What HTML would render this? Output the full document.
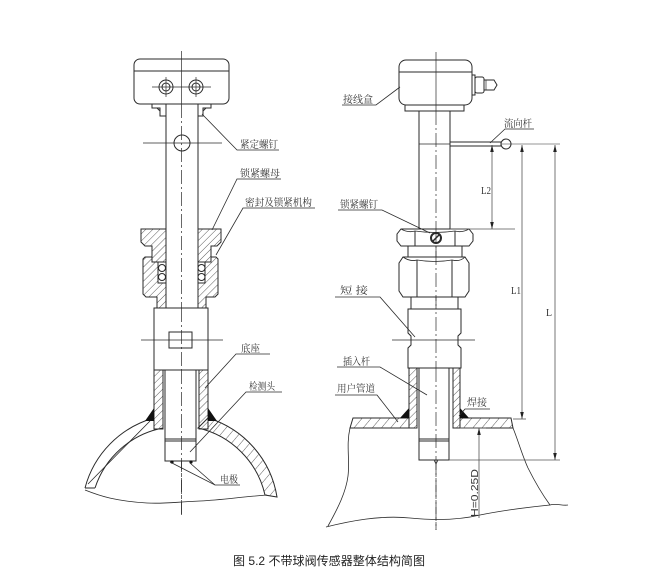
<!DOCTYPE html>
<html><head><meta charset="utf-8"><style>
html,body{margin:0;padding:0;background:#fff;}
svg{display:block;}
text{font-family:"Liberation Serif","Noto Serif CJK SC",serif;font-size:10px;fill:#333;}
.cap{font-family:"Liberation Sans","Noto Sans CJK SC",sans-serif;font-size:12px;fill:#222;}
.hd{font-family:"Liberation Sans","Noto Sans CJK SC",sans-serif;font-size:10px;fill:#333;}
</style></head><body>
<svg width="648" height="577" viewBox="0 0 648 577" xmlns="http://www.w3.org/2000/svg">
<defs>
<pattern id="h" width="5" height="5" patternUnits="userSpaceOnUse" patternTransform="rotate(45)">
<line x1="0" y1="0" x2="0" y2="5" stroke="#333" stroke-width="0.8"/>
</pattern>
<pattern id="h2" width="7" height="7" patternUnits="userSpaceOnUse" patternTransform="rotate(40)">
<line x1="0" y1="0" x2="0" y2="7" stroke="#333" stroke-width="0.8"/>
</pattern>
</defs>

<!-- ================= LEFT DRAWING ================= -->
<g fill="none" stroke="#2a2a2a" stroke-width="1">
  <line x1="181.5" y1="51" x2="181.5" y2="104" stroke-width="0.7"/>
  <line x1="181.5" y1="104" x2="181.5" y2="515" stroke-width="0.7" stroke-dasharray="14 3 2 3"/>
  <rect x="134" y="59" width="95" height="45" rx="6"/>
  <line x1="134" y1="71" x2="229" y2="71"/>
  <circle cx="166" cy="87" r="7"/><circle cx="166" cy="87" r="4"/>
  <circle cx="196" cy="87" r="7"/><circle cx="196" cy="87" r="4"/>
  <line x1="152" y1="87" x2="211" y2="87" stroke-width="0.7"/>
  <line x1="166" y1="77" x2="166" y2="97" stroke-width="0.7"/>
  <line x1="196" y1="77" x2="196" y2="97" stroke-width="0.7"/>
  <path d="M152,104 V108 H160 V116 H166"/>
  <path d="M211,104 V108 H203 V116 H198"/>
  <path d="M157,108 L160,111 L160,108 Z" fill="url(#h)"/>
  <path d="M206,108 L203,111 L203,108 Z" fill="url(#h)"/>
  <line x1="166" y1="104" x2="166" y2="308"/>
  <line x1="198" y1="104" x2="198" y2="308"/>
  <circle cx="182" cy="143" r="8"/>
  <line x1="143" y1="143" x2="222" y2="143" stroke-width="0.7"/>
  <path d="M141,229 H166 V262 H152 V246 H145 L141,242 Z" fill="url(#h)"/>
  <path d="M198,229 H221 V242 L217,246 H211 V262 H198 Z" fill="url(#h)"/>
  <path d="M143,259 L145,257 H152 V262 H158 V283 H166 V308 H157 V297 H146 L143,294 Z" fill="url(#h)"/>
  <path d="M218,259 L216,257 H211 V262 H205 V283 H198 V308 H206 V297 H215 L218,294 Z" fill="url(#h)"/>
  <rect x="158" y="262" width="8" height="21" fill="#fff"/>
  <rect x="198" y="262" width="7" height="21" fill="#fff"/>
  <circle cx="162" cy="268" r="3.5"/><circle cx="162" cy="277" r="3.5"/>
  <circle cx="201.5" cy="268" r="3.5"/><circle cx="201.5" cy="277" r="3.5"/>
  <rect x="154" y="308" width="54" height="62" fill="#fff"/>
  <rect x="169" y="332" width="23" height="16"/>
  <line x1="141" y1="340" x2="223" y2="340" stroke-width="0.7"/>
  <line x1="181.5" y1="308" x2="181.5" y2="370" stroke-width="0.7" stroke-dasharray="14 3 2 3"/>
  <path d="M208,418 A99,99 0 0 1 277,497 L265,495 A89,89 0 0 0 198,428 Z" fill="url(#h2)"/>
  <path d="M85,488 A99,99 0 0 1 154,418"/>
  <path d="M95,488 A89,89 0 0 1 163,428"/>
  <line x1="88" y1="484" x2="150" y2="421" stroke-width="0.8"/>
  <line x1="85" y1="488" x2="95" y2="488"/>
  <path d="M85,490 C100,496 115,501 147,503 C165,504 175,502 200,501 C222,500 240,497 267,495" stroke-width="0.8"/>
  <rect x="154" y="370" width="9" height="59" fill="url(#h)"/>
  <rect x="199" y="370" width="9" height="59" fill="url(#h)"/>
  <rect x="165" y="370" width="31" height="91" fill="#fff"/>
  <line x1="165" y1="439" x2="196" y2="439"/>
  <line x1="165" y1="441" x2="196" y2="441"/>
  <line x1="181.5" y1="370" x2="181.5" y2="515" stroke-width="0.7" stroke-dasharray="14 3 2 3"/>
  <path d="M154,408 L154,421 L145,421 Z" fill="#111" stroke="none"/>
  <path d="M208,408 L208,421 L217,421 Z" fill="#111" stroke="none"/>
  <circle cx="172" cy="462" r="1.6" fill="#111" stroke="none"/>
  <circle cx="191" cy="462" r="1.6" fill="#111" stroke="none"/>
  <g stroke-width="0.8">
    <polyline points="202,114 237,150 279,150"/>
    <polyline points="212,230 237,179 281,179"/>
    <polyline points="216,255 243,208 315,208"/>
    <polyline points="205,388 236,354 270,354"/>
    <polyline points="190,452 246,392 282,392"/>
    <polyline points="170,462 215,485 240,485"/>
    <line x1="190" y1="463" x2="215" y2="485"/>
  </g>
</g>
<text x="240" y="148" textLength="38" lengthAdjust="spacingAndGlyphs">紧定螺钉</text>
<text x="240" y="177" textLength="40" lengthAdjust="spacingAndGlyphs">锁紧螺母</text>
<text x="245" y="206" textLength="67" lengthAdjust="spacingAndGlyphs">密封及锁紧机构</text>
<text x="241" y="352" textLength="19" lengthAdjust="spacingAndGlyphs">底座</text>
<text x="249" y="390" textLength="26" lengthAdjust="spacingAndGlyphs">检测头</text>
<text x="220" y="483" textLength="18" lengthAdjust="spacingAndGlyphs">电极</text>

<!-- ================= RIGHT DRAWING ================= -->
<g fill="none" stroke="#2a2a2a" stroke-width="1">
  <line x1="436" y1="52" x2="436" y2="111" stroke-width="0.7"/>
  <line x1="436" y1="111" x2="436" y2="530" stroke-width="0.7" stroke-dasharray="14 3 2 3"/>
  <rect x="399" y="60" width="73" height="45" rx="7"/>
  <line x1="399" y1="72" x2="472" y2="72"/>
  <rect x="405" y="105" width="59" height="6"/>
  <rect x="472" y="75" width="3" height="20"/>
  <rect x="475" y="77" width="9" height="16" rx="2"/>
  <path d="M484,80 L494,80 L497,85 L494,90 L484,90"/>
  <line x1="486" y1="80" x2="486" y2="90" stroke-width="0.7"/>
  <line x1="419" y1="111" x2="419" y2="229"/>
  <line x1="450" y1="111" x2="450" y2="229"/>
  <line x1="419" y1="144" x2="450" y2="144" stroke-width="0.7"/>
  <rect x="450" y="142" width="51" height="4"/>
  <circle cx="506" cy="144" r="5"/>
  <line x1="501" y1="144" x2="560" y2="144" stroke-width="0.6"/>
  <path d="M401,229 H469 L473,234 V241 L469,246 H401 L397,241 V234 Z" fill="#fff"/>
  <line x1="415" y1="231" x2="415" y2="246"/>
  <line x1="455" y1="231" x2="455" y2="246"/>
  <path d="M401,229 Q408,233 415,231 Q435,234 455,231 Q462,233 469,229" stroke-width="0.8"/>
  <circle cx="436" cy="238" r="5" stroke-width="2"/>
  <line x1="432" y1="242" x2="440" y2="234" stroke-width="1.5"/>
  <rect x="408" y="246" width="54" height="11"/>
  <path d="M403,257 H465 L469,263 V291 L465,297 H403 L399,291 V263 Z" fill="#fff"/>
  <line x1="417" y1="260" x2="417" y2="297"/>
  <line x1="452" y1="260" x2="452" y2="297"/>
  <path d="M403,257 Q410,262 417,260 Q435,263 452,260 Q460,262 465,257" stroke-width="0.8"/>
  <rect x="411" y="297" width="47" height="12"/>
  <path d="M408,309 H461 V333 L458,336 V345 L461,348 V368 H408 V348 L411,345 V336 L408,333 Z" fill="#fff"/>
  <line x1="392" y1="340" x2="475" y2="340" stroke-width="0.7"/>
  <line x1="436" y1="229" x2="436" y2="368" stroke-width="0.7" stroke-dasharray="14 3 2 3"/>
  <path d="M350,428 L353,418 H409 V428 Z" fill="url(#h2)"/>
  <path d="M460,418 H511 L513,428 H460 Z" fill="url(#h2)"/>
  <path d="M350,428 C346,445 350,460 348,476 C346,492 338,508 328,526" stroke-width="0.8"/>
  <path d="M513,428 C518,440 522,455 528,468 C534,480 542,494 550,505 C556,503 562,506 568,505" stroke-width="0.8"/>
  <path d="M326,527 C350,521 380,515 410,518 C430,520 455,521 480,515 C505,510 530,507 550,505" stroke-width="0.8"/>
  <rect x="409" y="368" width="8" height="60" fill="url(#h)"/>
  <rect x="453" y="368" width="7" height="60" fill="url(#h)"/>
  <rect x="419" y="368" width="30" height="92" fill="#fff"/>
  <line x1="419" y1="439" x2="449" y2="439"/>
  <line x1="419" y1="441" x2="449" y2="441"/>
  <line x1="436" y1="368" x2="436" y2="530" stroke-width="0.7" stroke-dasharray="14 3 2 3"/>
  <path d="M434,460 L436,464 L438,460" stroke-width="0.8"/>
  <path d="M409,408 L409,418 L400,418 Z" fill="#111" stroke="none"/>
  <path d="M460,408 L460,418 L469,418 Z" fill="#111" stroke="none"/>
  <g stroke-width="0.8" stroke="#555">
    <line x1="492" y1="145" x2="492" y2="229"/>
    <line x1="522" y1="145" x2="522" y2="419"/>
    <line x1="555" y1="145" x2="555" y2="460"/>
    <line x1="450" y1="229" x2="515" y2="229"/>
    <line x1="513" y1="419" x2="526" y2="419"/>
    <line x1="449" y1="460" x2="560" y2="460"/>
    <line x1="479" y1="428" x2="479" y2="518"/>
    <line x1="460" y1="428" x2="486" y2="428"/>
  </g>
  <g stroke-width="0.8">
    <polyline points="400,87 376,105 342,105"/>
    <polyline points="490,143 505,129 534,129"/>
    <polyline points="430,233 382,210 338,210"/>
    <polyline points="415,337 380,297 335,297"/>
    <polyline points="427,395 380,367 337,367"/>
    <polyline points="398,422 377,395 335,395"/>
    <polyline points="459,416 465,409 490,409"/>
  </g>
</g>
<g fill="#222">
  <polygon points="492,145 490.2,152 493.8,152"/>
  <polygon points="522,145 520.2,152 523.8,152"/>
  <polygon points="555,145 553.2,152 556.8,152"/>
  <polygon points="492,229 490.2,222 493.8,222"/>
  <polygon points="522,419 520.2,412 523.8,412"/>
  <polygon points="555,460 553.2,453 556.8,453"/>
  <polygon points="479,428 477.2,435 480.8,435"/>
</g>
<text x="343" y="103" textLength="30" lengthAdjust="spacingAndGlyphs">接线盒</text>
<text x="504" y="127" textLength="28" lengthAdjust="spacingAndGlyphs">流向杆</text>
<text x="481" y="194" textLength="10" lengthAdjust="spacingAndGlyphs">L2</text>
<text x="340" y="208" textLength="38" lengthAdjust="spacingAndGlyphs">锁紧螺钉</text>
<text x="340" y="294" textLength="28" lengthAdjust="spacingAndGlyphs">短 接</text>
<text x="511" y="294" textLength="10" lengthAdjust="spacingAndGlyphs">L1</text>
<text x="546" y="316" textLength="6" lengthAdjust="spacingAndGlyphs">L</text>
<text x="343" y="365" textLength="27" lengthAdjust="spacingAndGlyphs">插入杆</text>
<text x="337" y="392" textLength="38" lengthAdjust="spacingAndGlyphs">用户管道</text>
<text x="467" y="406" textLength="20" lengthAdjust="spacingAndGlyphs">焊接</text>
<text class="hd" transform="translate(478,517) rotate(-90)" x="0" y="0" textLength="48" lengthAdjust="spacingAndGlyphs">H=0.25D</text>

<text class="cap" x="233" y="565" textLength="192" lengthAdjust="spacingAndGlyphs">图 5.2 不带球阀传感器整体结构简图</text>
</svg>
</body></html>
